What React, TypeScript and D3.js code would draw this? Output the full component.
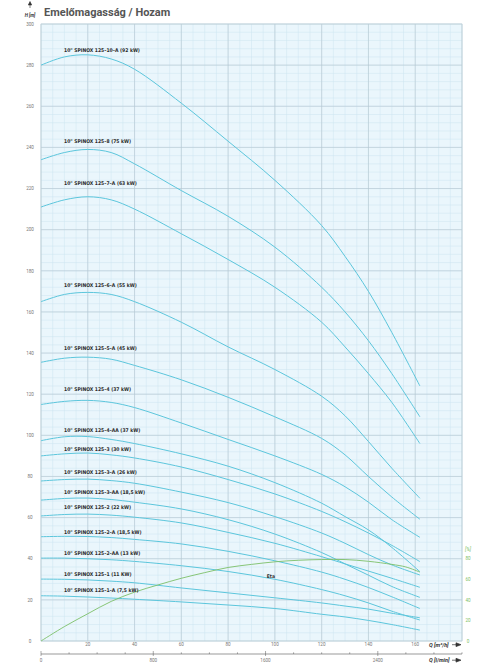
import * as d3 from 'd3';

const flowPts = [0, 10, 20, 30, 40, 60, 80, 100, 120, 130, 140, 150, 162];

const pumpNames = [
  '10" SPINOX 125–10–A (92 kW)',
  '10" SPINOX 125–8 (75 kW)',
  '10" SPINOX 125–7–A (63 kW)',
  '10" SPINOX 125–6–A (55 kW)',
  '10" SPINOX 125–5–A (45 kW)',
  '10" SPINOX 125–4 (37 kW)',
  '10" SPINOX 125–4–AA (37 kW)',
  '10" SPINOX 125–3 (30 kW)',
  '10" SPINOX 125–3–A (26 kW)',
  '10" SPINOX 125–3–AA (18,5 kW)',
  '10" SPINOX 125–2 (22 kW)',
  '10" SPINOX 125–2–A (18,5 kW)',
  '10" SPINOX 125–2–AA (13 kW)',
  '10" SPINOX 125–1 (11 KW)',
  '10" SPINOX 125–1–A (7,5 kW)',
];

// head (m) per pump, one value per flowPts entry
const heads = [
  [280, 284, 285, 283, 278, 261.5, 243, 224, 202, 187, 170, 150, 124],
  [234, 237.5, 239, 237.5, 232, 219, 206.5, 191.5, 172, 160, 146, 130, 109],
  [211, 214.5, 216, 214.5, 210, 198, 185.5, 172, 155, 143, 130, 116, 96],
  [165, 168.5, 169.5, 168.5, 165, 155, 143, 132, 119, 109.5, 97, 84, 69.4],
  [135.5, 137.5, 138, 137, 134, 127, 118.5, 109, 98.5, 90.5, 80, 70, 59.2],
  [115, 116.5, 117, 116, 113.5, 106, 98, 90, 81, 75, 67.5, 59, 50.4],
  [97.4, 99.3, 99.4, 98, 96, 91, 85, 77, 67, 60.5, 54, 45.5, 33.7],
  [90, 91, 91.4, 90.5, 89, 84.6, 78.5, 71.5, 63, 58, 52.5, 46.5, 38.6],
  [77.8, 78.5, 78.7, 78, 76.7, 72.4, 67.3, 60.5, 52.5, 47.5, 42, 37, 32.1],
  [68.5, 69.3, 69.5, 68.8, 67.5, 64.2, 59, 52, 43, 37.5, 32, 26.5, 21.2],
  [60.8, 61.5, 61.7, 61.2, 60.2, 57.4, 52.8, 47.5, 41, 37.5, 34, 30.5, 26.1],
  [50.7, 50.9, 50.8, 50.3, 49.4, 47.2, 43.6, 39, 33.5, 30, 26, 21.5, 15.8],
  [40.3, 40.3, 40, 39.5, 38.7, 36.6, 33.8, 30, 25, 22, 18.5, 14.5, 10.2],
  [30.1, 30, 29.7, 29.1, 28.3, 25.8, 23.4, 21, 18.5, 17, 15.5, 13.5, 11.3],
  [22, 21.8, 21.4, 20.9, 20.3, 19, 17.5, 15.8, 13, 11.7, 10, 8, 5.3],
];

// head (m) where each name label sits
const labelHeads = [286.6, 241.9, 221.7, 172.1, 141.5, 121.5, 101.4, 92.4, 81.4, 71.7, 64.2, 51.8, 41.8, 31.6, 23.8];

// efficiency curve
const etaFlow = [0, 10, 20, 30, 40, 50, 60, 70, 80, 90, 100, 110, 120, 130, 140, 150, 156, 162];
const etaVals = [0, 14, 26.5, 38.5, 47.5, 54.5, 61, 66.5, 71.5, 74.5, 77, 78.5, 79.2, 79.2, 77.5, 74.5, 72, 67];

const flowTicks = [20, 40, 60, 80, 100, 120, 140, 160];
const headTicks = [0, 20, 40, 60, 80, 100, 120, 140, 160, 180, 200, 220, 240, 260, 280, 300];
const etaTicks = [0, 20, 40, 60, 80];
const lminTicks = [0, 800, 1600, 2400];

const W = 496;
const H = 664;
const left = 41;
const right = 462;
const top = 24;
const bottom = 641;

const blue = '#5cc6dc';
const green = '#7cbf68';
const labelFont = '"DejaVu Sans Condensed", "Liberation Sans Narrow", sans-serif';
const font = 'Roboto, "Open Sans", sans-serif';

export default function App() {
  const x = d3.scaleLinear().domain([0, 180]).range([left, right]);
  const y = d3.scaleLinear().domain([0, 300]).range([bottom, top]);
  const yEta = d3.scaleLinear().domain([0, 100]).range([bottom, y(50)]);
  const lmin = d3.scaleLinear().domain([0, 180 * 1000 / 60]).range([left, right]);

  const line = d3
    .line<[number, number]>()
    .x((d) => x(d[0]))
    .y((d) => y(d[1]))
    .curve(d3.curveCatmullRom.alpha(0.5));

  const etaLine = d3
    .line<[number, number]>()
    .x((d) => x(d[0]))
    .y((d) => yEta(d[1]))
    .curve(d3.curveCatmullRom.alpha(0.5));

  const minorX = d3.range(0, 181, 5);
  const minorY = d3.range(0, 301, 4);
  const majorX = d3.range(0, 181, 20);
  const majorY = d3.range(0, 301, 20);
  const lminMinor = d3.range(0, 3001, 200);

  return (
    <div style={{ position: 'absolute', left: 0, top: 0 }}>
      <svg width={W} height={H} style={{ display: 'block', background: '#fff' }}>
        {/* title */}
        <text x={44} y={16} fontFamily={font} fontWeight={700} fontSize={11} fill="#555">
          Emelőmagasság / Hozam
        </text>
        <path d="M30,1.5 L28.3,5 L31.7,5 Z M30,4.5 L30,8" stroke="#333" strokeWidth={0.6} fill="#333" />
        <text x={30} y={17} textAnchor="middle" fontFamily={font} fontStyle="italic" fontWeight={700} fontSize={4.6} fill="#333">
          H [m]
        </text>

        {/* plot background and grid */}
        <rect x={left} y={top} width={right - left} height={bottom - top} fill="#eaf6fc" />
        {minorX.map((v) => (
          <line key={'mx' + v} x1={x(v)} x2={x(v)} y1={top} y2={bottom} stroke="#cde5f1" strokeWidth={0.5} />
        ))}
        {minorY.map((v) => (
          <line key={'my' + v} y1={y(v)} y2={y(v)} x1={left} x2={right} stroke="#cde5f1" strokeWidth={0.5} />
        ))}
        {majorX.map((v) => (
          <line key={'Mx' + v} x1={x(v)} x2={x(v)} y1={top} y2={bottom} stroke="#b5c6d0" strokeWidth={0.6} />
        ))}
        {majorY.map((v) => (
          <line key={'My' + v} y1={y(v)} y2={y(v)} x1={left} x2={right} stroke="#b5c6d0" strokeWidth={0.6} />
        ))}
        <rect x={left} y={top} width={right - left} height={bottom - top} fill="none" stroke="#c4d3db" strokeWidth={0.6} />

        {/* pump curves */}
        {heads.map((hs, i) => (
          <path
            key={'c' + i}
            d={line(flowPts.map((f, j) => [f, hs[j]] as [number, number])) || ''}
            fill="none"
            stroke={blue}
            strokeWidth={1}
          />
        ))}

        {/* efficiency */}
        <path
          d={etaLine(etaFlow.map((f, j) => [f, etaVals[j]] as [number, number])) || ''}
          fill="none"
          stroke={green}
          strokeWidth={0.9}
        />
        <text x={x(96.5)} y={yEta(61)} fontFamily={labelFont} fontWeight={700} fontSize={5} fill="#333">
          Eta
        </text>

        {/* curve labels */}
        {pumpNames.map((n, i) => (
          <text
            key={'l' + i}
            x={64}
            y={y(labelHeads[i])}
            fontFamily={labelFont}
            fontWeight={700}
            fontSize={5}
            fill="#2b2b2b"
          >
            {n}
          </text>
        ))}

        {/* left axis labels */}
        {headTicks.map((v) => (
          <text key={'h' + v} x={30} y={y(v) + 1.7} textAnchor="middle" fontFamily={font} fontSize={4.6} fill="#777">
            {v}
          </text>
        ))}

        {/* right eta axis */}
        {etaTicks.map((v) => (
          <text key={'e' + v} x={468} y={yEta(v) + 1.7} textAnchor="middle" fontFamily={font} fontSize={4.6} fill={green}>
            {v}
          </text>
        ))}
        <text x={468} y={yEta(80) - 8} textAnchor="middle" fontFamily={font} fontStyle="italic" fontSize={5} fill={green}>
          [%]
        </text>

        {/* flow axis m3/h */}
        {flowTicks.map((v) => (
          <text key={'f' + v} x={x(v)} y={646} textAnchor="middle" fontFamily={font} fontSize={4.6} fill="#777">
            {v}
          </text>
        ))}
        <text x={429} y={646.5} fontFamily={font} fontStyle="italic" fontWeight={700} fontSize={5.5} fill="#333">
          Q [m³/h]
        </text>
        <path d="M452,644.7 L459,644.7 M456,642.8 L461,644.7 L456,646.6 Z" stroke="#333" strokeWidth={0.7} fill="#333" />

        {/* flow axis l/min */}
        <line x1={left} x2={right} y1={654} y2={654} stroke="#555" strokeWidth={0.6} />
        {lminMinor.map((v) => (
          <line
            key={'lt' + v}
            x1={lmin(v)}
            x2={lmin(v)}
            y1={v % 800 === 0 ? 651 : 652.3}
            y2={v % 800 === 0 ? 656 : 654}
            stroke="#555"
            strokeWidth={0.5}
          />
        ))}
        {lminTicks.map((v) => (
          <text key={'lm' + v} x={lmin(v)} y={661.5} textAnchor="middle" fontFamily={font} fontSize={4.6} fill="#777">
            {v}
          </text>
        ))}
        <text x={429} y={662} fontFamily={font} fontStyle="italic" fontWeight={700} fontSize={5.5} fill="#333">
          Q [l/min]
        </text>
        <path d="M452,660.2 L459,660.2 M456,658.3 L461,660.2 L456,662.1 Z" stroke="#333" strokeWidth={0.7} fill="#333" />
      </svg>
    </div>
  );
}
